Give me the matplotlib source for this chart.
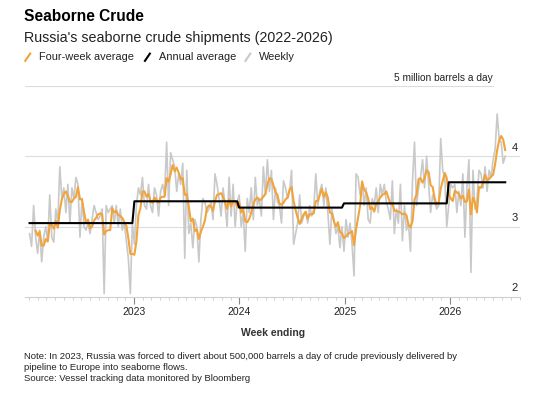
import matplotlib
matplotlib.use("Agg")
import matplotlib.pyplot as plt
import matplotlib.dates as mdates
from matplotlib.lines import Line2D
import numpy as np
import pandas as pd

plt.rcParams['font.family'] = ['Liberation Sans', 'DejaVu Sans']

# weekly seaborne crude shipments, million barrels a day
weekly_2022 = [2.90, 2.72, 3.30, 2.85, 2.62, 2.95, 2.50, 2.85, 3.00, 2.80, 3.45, 2.85, 2.78,
               3.25, 3.05, 3.85, 3.40, 3.55, 3.20, 3.60, 3.05, 3.55, 3.40, 3.70, 3.60, 2.85,
               3.40, 3.00, 2.95, 3.05, 2.90, 3.10, 3.30, 3.20, 3.10, 3.15, 3.25, 2.05, 3.30,
               3.20, 3.25, 3.30, 3.05, 3.30, 3.00, 3.25, 2.95, 3.05, 2.80, 2.55, 2.05, 3.05]
weekly_2023 = [2.75, 3.30, 3.55, 3.45, 3.70, 3.30, 3.25, 3.60, 3.30, 3.20, 3.55, 3.45, 3.15,
               3.50, 3.60, 3.45, 4.20, 3.30, 4.05, 3.95, 3.85, 3.50, 3.75, 3.60, 3.90, 2.55,
               3.80, 2.90, 3.05, 2.70, 3.10, 3.00, 2.50, 3.10, 3.40, 3.35, 3.20, 3.25, 3.35,
               3.10, 3.75, 3.60, 3.40, 3.15, 3.55, 3.30, 3.00, 3.70, 3.15, 3.60, 3.00, 3.35]
weekly_2024 = [3.45, 3.00, 3.20, 2.65, 3.40, 3.20, 3.55, 3.10, 3.70, 3.30, 3.40, 3.15, 3.85,
               3.45, 3.95, 3.50, 3.80, 3.10, 3.55, 3.35, 3.30, 3.05, 3.65, 3.55, 3.40, 3.50,
               3.80, 2.75, 2.90, 3.05, 3.45, 3.05, 3.15, 3.20, 3.05, 3.30, 3.15, 3.25, 3.75,
               3.30, 3.50, 3.60, 3.30, 3.55, 3.20, 2.75, 3.25, 3.10, 2.90, 3.00, 2.70, 3.00]
weekly_2025 = [2.65, 3.10, 2.85, 3.05, 2.75, 2.30, 3.75, 3.70, 3.45, 3.65, 3.30, 3.55, 3.10,
               3.05, 3.40, 3.30, 3.55, 3.20, 3.60, 3.45, 3.60, 3.35, 3.25, 3.10, 3.65, 2.90,
               3.25, 3.05, 3.60, 2.80, 3.30, 2.95, 3.05, 2.65, 3.65, 4.20, 3.30, 3.55, 3.70,
               3.95, 3.55, 4.00, 3.60, 3.20, 3.45, 3.35, 3.25, 3.30, 4.25, 3.80, 3.70, 3.00]
weekly_2026 = [3.30, 3.60, 3.55, 3.60, 3.20, 3.50, 3.30, 3.75, 2.85, 3.55, 3.95, 2.35, 3.80,
               3.25, 3.40, 3.80, 3.75, 3.55, 3.85, 3.50, 3.80, 3.70, 3.95, 4.10, 4.60, 4.25,
               4.20, 3.90, 4.00]

annual_avg = [3.05, 3.36, 3.27, 3.33, 3.63]

years = [2022, 2023, 2024, 2025, 2026]
chunks = [weekly_2022, weekly_2023, weekly_2024, weekly_2025, weekly_2026]

weekly = np.concatenate(chunks)
annual = np.concatenate([[a] * len(c) for a, c in zip(annual_avg, chunks)])
dates = pd.date_range('2022-01-02', periods=len(weekly), freq='W-SUN')
four_week = pd.Series(weekly).rolling(4).mean().values

y_ticks = [2, 3, 4, 5]
x_years = [2023, 2024, 2025, 2026]

ORANGE = '#f2a33a'
GRAY = '#c9c9c9'

fig = plt.figure(figsize=(5.49, 4.03), dpi=100)
ax = fig.add_axes([0.0455, 0.263, 0.902, 0.524])

for t in y_ticks[1:-1]:
    ax.axhline(t, color='#dcdcdc', lw=0.8, zorder=0)
ax.axhline(y_ticks[-1], xmax=0.945, color='#dcdcdc', lw=0.8, zorder=0)

ax.plot(dates, weekly, color=GRAY, lw=1.2, zorder=1)
ax.plot(dates, four_week, color=ORANGE, lw=1.5, zorder=2)
ax.plot(dates, annual, color='black', lw=1.5, zorder=3)

ax.set_ylim(2, 5)
ax.set_xlim(pd.Timestamp('2021-12-17'), pd.Timestamp('2026-09-02'))

for side in ['top', 'right', 'left']:
    ax.spines[side].set_visible(False)
ax.spines['bottom'].set_color('#cfcfcf')
ax.spines['bottom'].set_linewidth(0.8)
ax.set_yticks([])

ax.set_xticks([pd.Timestamp(f'{y}-01-01') for y in x_years])
ax.set_xticklabels([str(y) for y in x_years], fontsize=7.5, color='#222222')
ax.xaxis.set_minor_locator(mdates.MonthLocator())
ax.tick_params(axis='x', which='major', length=5, width=0.8, color='#888888', pad=2)
ax.tick_params(axis='x', which='minor', length=2.5, width=0.6, color='#cccccc')

# y labels sit above gridlines at the right
for t in y_ticks[:-1]:
    ax.text(0.995, t + 0.05, str(t), transform=ax.get_yaxis_transform(),
            ha='right', va='bottom', fontsize=8, color='#222222')
ax.text(0.945, 5.04, '5 million barrels a day', transform=ax.get_yaxis_transform(),
        ha='right', va='bottom', fontsize=7.3, color='#222222')

ax.set_xlabel('Week ending', fontsize=7.5, fontweight='bold', labelpad=8, color='#333333')

fig.text(0.044, 0.960, 'Seaborne Crude', fontsize=11.2, fontweight='bold', va='center')
fig.text(0.044, 0.906, "Russia's seaborne crude shipments (2022-2026)", fontsize=10.3,
         va='center', color='#222222')

legend_items = [('Four-week average', ORANGE, 0.046), ('Annual average', 'black', 0.264),
                ('Weekly', GRAY, 0.447)]
for label, col, x0 in legend_items:
    fig.add_artist(Line2D([x0, x0 + 0.009], [0.849, 0.867], color=col, lw=1.5,
                          transform=fig.transFigure))
    fig.text(x0 + 0.025, 0.858, label, fontsize=7.9, va='center', color='#222222')

notes = ("Note: In 2023, Russia was forced to divert about 500,000 barrels a day of crude previously delivered by\n"
         "pipeline to Europe into seaborne flows.\n"
         "Source: Vessel tracking data monitored by Bloomberg")
fig.text(0.044, 0.127, notes, fontsize=6.8, va='top', linespacing=1.3, color='#222222')

fig.savefig('out.png', dpi=100)
